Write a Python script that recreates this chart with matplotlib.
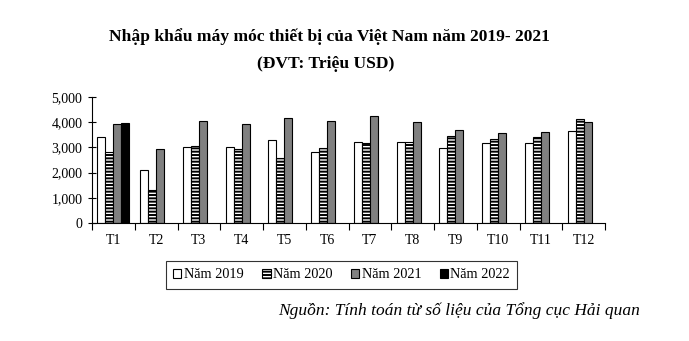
import numpy as np
import matplotlib.pyplot as plt
from matplotlib.ticker import FuncFormatter

months = ["T1", "T2", "T3", "T4", "T5", "T6", "T7", "T8", "T9", "T10", "T11", "T12"]
nam_2019 = [3400, 2100, 3000, 3000, 3290, 2820, 3210, 3210, 2980, 3190, 3190, 3650]
nam_2020 = [2830, 1310, 3050, 2920, 2570, 2980, 3170, 3200, 3450, 3330, 3410, 4130]
nam_2021 = [3930, 2920, 4050, 3930, 4170, 4050, 4250, 4010, 3690, 3570, 3610, 4010]
nam_2022 = [3970] + [np.nan] * 11

plt.rcParams['font.family'] = ['Liberation Serif', 'DejaVu Serif']
plt.rcParams['hatch.linewidth'] = 1.4

fig = plt.figure(figsize=(6.89, 3.41), dpi=100)
ax = fig.add_axes([92 / 689, 1 - 223 / 341, (605 - 92) / 689, (223 - 97) / 341])

x = np.arange(len(months))
w = 0.187
ax.bar(x - 1.5 * w, nam_2019, w, color='white', edgecolor='black', linewidth=0.8, label='Năm 2019')
ax.bar(x - 0.5 * w, nam_2020, w, color='white', edgecolor='black', linewidth=0.8, hatch='-----', label='Năm 2020')
ax.bar(x + 0.5 * w, nam_2021, w, color='#808080', edgecolor='black', linewidth=0.8, label='Năm 2021')
ax.bar(x + 1.5 * w, nam_2022, w, color='black', edgecolor='black', linewidth=0.8, label='Năm 2022')

ax.set_xlim(-0.5, len(months) - 0.5)
ax.set_ylim(0, 5000)
ax.set_yticks(range(0, 5001, 1000))
ax.yaxis.set_major_formatter(FuncFormatter(lambda v, p: f"{int(v):,}"))
ax.set_xticks(x)
ax.set_xticklabels(months)
ax.set_xticks(np.arange(-0.5, len(months)), minor=True)
ax.tick_params(axis='x', which='major', length=0, labelsize=10, pad=8)
ax.tick_params(axis='x', which='minor', length=5, direction='out', width=0.8)
ax.tick_params(axis='y', length=6, direction='inout', width=0.8, labelsize=10, pad=4)
for s in ['top', 'right']:
    ax.spines[s].set_visible(False)
for s in ['left', 'bottom']:
    ax.spines[s].set_linewidth(0.8)

fig.text(329 / 689, 1 - 37 / 341, "Nhập khẩu máy móc thiết bị của Việt Nam năm 2019- 2021",
         ha='center', va='center', fontsize=12.6, fontweight='bold')
fig.text(326 / 689, 1 - 64 / 341, "(ĐVT: Triệu USD)", ha='center', va='center',
         fontsize=12.6, fontweight='bold')

leg = fig.legend(loc='center', bbox_to_anchor=(341.5 / 689, 1 - 275 / 341), ncol=4,
                 fontsize=10.3, frameon=True, fancybox=False, edgecolor='black',
                 handlelength=0.6, handleheight=0.6, handletextpad=0.15,
                 columnspacing=1.3, borderpad=0.5, borderaxespad=0)
leg.get_frame().set_linewidth(0.8)

fig.text(640 / 689, 1 - 311 / 341, "Nguồn: Tính toán từ số liệu của Tổng cục Hải quan",
         ha='right', va='center', fontsize=12.5, style='italic')

fig.savefig('out.png', dpi=100)
